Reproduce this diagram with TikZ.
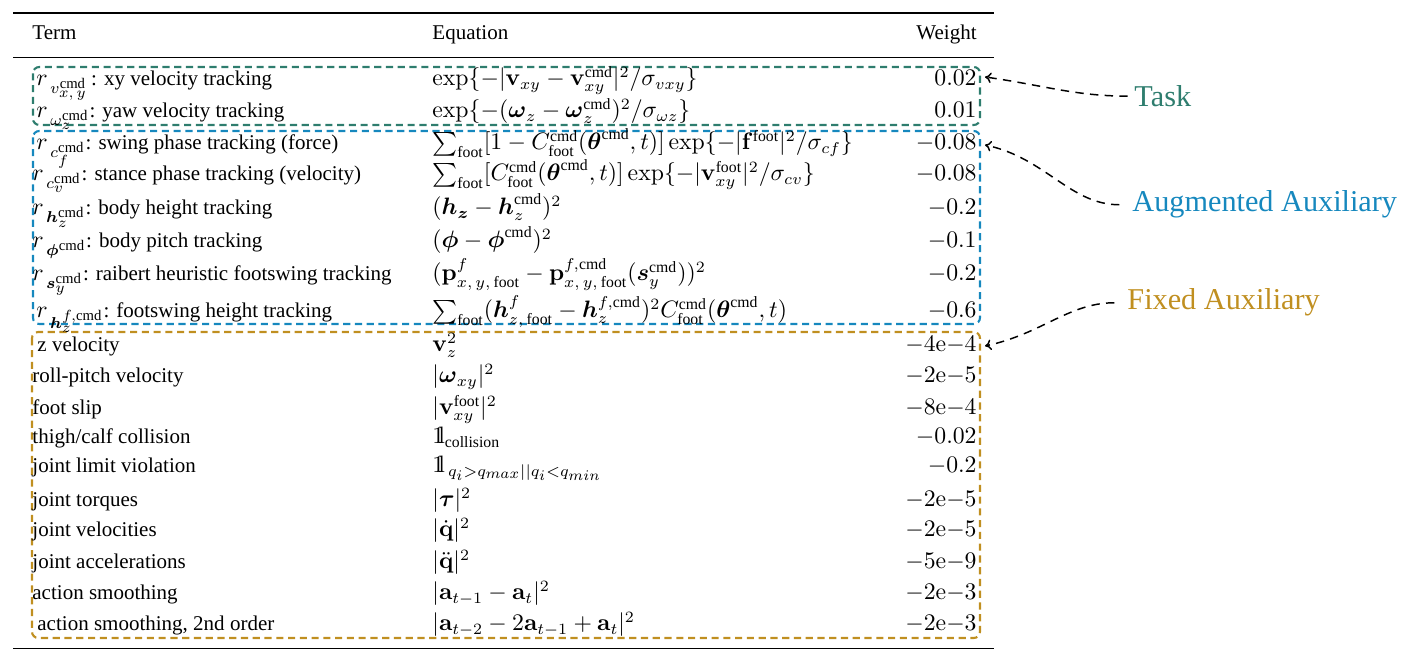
\RequirePackage{fix-cm}
\documentclass[tikz,border=0pt]{standalone}
\usepackage{amsmath,amssymb}
\usepackage[no-math]{fontspec}
\setmainfont{Liberation Serif}
\usetikzlibrary{arrows.meta}
\DeclareMathSizes{10}{11.3}{7.5}{7}
\definecolor{taskc}{RGB}{46,125,110}
\definecolor{augc}{RGB}{22,136,190}
\definecolor{fixc}{RGB}{192,143,32}
\newcommand{\cmdt}{\text{cmd}}
\newcommand{\ft}{\text{foot}}
\newcommand{\indic}{\mathrm{1\mkern-4.5mu l}}
\begin{document}
\begin{tikzpicture}[x=0.476pt,y=-0.476pt,
  txt/.style={inner sep=0pt, anchor=base west, font=\fontsize{10}{12}\selectfont},
  wt/.style={inner sep=0pt, anchor=base east, font=\fontsize{10}{12}\selectfont},
  grp/.style={line width=1pt, dash pattern=on 3.4pt off 2.2pt, rounded corners=3pt},
  lbl/.style={inner sep=0pt, anchor=base west, font=\fontsize{14.4}{17}\selectfont},
  pointer/.style={line width=0.7pt, dash pattern=on 4pt off 3pt, -{To[length=3pt,width=5pt]}}]
\useasboundingbox (0,0) rectangle (1401,660);

% rules
\draw[line width=0.9pt] (13,12.7) -- (994,12.7);
\draw[line width=0.55pt] (13,57.3) -- (994,57.3);
\draw[line width=0.9pt] (13,648.5) -- (994,648.5);

% group boxes
\draw[grp, taskc] (33,67) rectangle (980,125);
\draw[grp, augc] (33,131) rectangle (980,324);
\draw[grp, fixc] (32,332) rectangle (980,638);

% header
\node[txt] (hterm) at (32,39.5) {Term};
\node[txt] (heq) at (432,39.5) {Equation};
\node[wt] (hwt) at (977,39.5) {Weight};

% task rows
\node[txt] (t1) at (36,86) {$r_{\,v^{\cmdt}_{x,\,y}}$\,: xy velocity tracking};
\node[txt] (e1) at (432,86) {$\exp\{-|\mathbf{v}_{xy}-\mathbf{v}^{\cmdt}_{xy}|^2/\sigma_{vxy}\}$};
\node[wt] (w1) at (977,86) {$0.02$};
\node[txt] (t2) at (36,118) {$r_{\,\omega^{\cmdt}_z}$: yaw velocity tracking};
\node[txt] (e2) at (432,118) {$\exp\{-(\boldsymbol{\omega}_z-\boldsymbol{\omega}^{\cmdt}_z)^2/\sigma_{\omega z}\}$};
\node[wt] (w2) at (977,118) {$0.01$};

% augmented rows
\node[txt] (t3) at (36,150) {$r_{\,c^{\cmdt}_f}$: swing phase tracking (force)};
\node[txt] (e3) at (432,150) {$\sum_{\ft}[1-C^{\cmdt}_{\ft}(\boldsymbol{\theta}^{\cmdt},t)]\exp\{-|\mathbf{f}^{\ft}|^2/\sigma_{cf}\}$};
\node[wt] (w3) at (977,150) {$-0.08$};
\node[txt] (t4) at (32,181) {$r_{\,c^{\cmdt}_v}$: stance phase tracking (velocity)};
\node[txt] (e4) at (432,181) {$\sum_{\ft}[C^{\cmdt}_{\ft}(\boldsymbol{\theta}^{\cmdt},t)]\exp\{-|\mathbf{v}^{\ft}_{xy}|^2/\sigma_{cv}\}$};
\node[wt] (w4) at (977,181) {$-0.08$};
\node[txt] (t5) at (32,215) {$r_{\,\boldsymbol{h}^{\cmdt}_z}$: body height tracking};
\node[txt] (e5) at (432,215) {$(\boldsymbol{h_z}-\boldsymbol{h}^{\cmdt}_z)^2$};
\node[wt] (w5) at (977,215) {$-0.2$};
\node[txt] (t6) at (32,248) {$r_{\,\boldsymbol{\phi}^{\cmdt}}$: body pitch tracking};
\node[txt] (e6) at (432,248) {$(\boldsymbol{\phi}-\boldsymbol{\phi}^{\cmdt})^2$};
\node[wt] (w6) at (977,248) {$-0.1$};
\node[txt] (t7) at (32,281) {$r_{\,\boldsymbol{s}^{\cmdt}_y}$: raibert heuristic footswing tracking};
\node[txt] (e7) at (432,281) {$(\mathbf{p}^f_{x,\,y,\,\ft}-\mathbf{p}^{f,\cmdt}_{x,\,y,\,\ft}(\boldsymbol{s}^{\cmdt}_y))^2$};
\node[wt] (w7) at (977,281) {$-0.2$};
\node[txt] (t8) at (36,318) {$r_{\,\boldsymbol{h}^{f,\cmdt}_z}$: footswing height tracking};
\node[txt] (e8) at (432,318) {$\sum_{\ft}(\boldsymbol{h}^f_{z,\,\ft}-\boldsymbol{h}^{f,\cmdt}_z)^2C^{\cmdt}_{\ft}(\boldsymbol{\theta}^{\cmdt},t)$};
\node[wt] (w8) at (977,318) {$-0.6$};

% fixed rows
\node[txt] (t9) at (37,352) {z velocity};
\node[txt] (e9) at (432,352) {$\mathbf{v}_z^2$};
\node[wt] (w9) at (977,352) {$-4\mathrm{e}{-4}$};
\node[txt] (t10) at (32,383) {roll-pitch velocity};
\node[txt] (e10) at (432,383) {$|\boldsymbol{\omega}_{xy}|^2$};
\node[wt] (w10) at (977,383) {$-2\mathrm{e}{-5}$};
\node[txt] (t11) at (32,415) {foot slip};
\node[txt] (e11) at (432,415) {$|\mathbf{v}^{\ft}_{xy}|^2$};
\node[wt] (w11) at (977,415) {$-8\mathrm{e}{-4}$};
\node[txt] (t12) at (32,444) {thigh/calf collision};
\node[txt] (e12) at (432,444) {$\indic_{\text{collision}}$};
\node[wt] (w12) at (977,444) {$-0.02$};
\node[txt] (t13) at (32,473) {joint limit violation};
\node[txt] (e13) at (432,473) {$\indic_{\,q_i>q_{max}||q_i<q_{min}}$};
\node[wt] (w13) at (977,473) {$-0.2$};
\node[txt] (t14) at (32,507) {joint torques};
\node[txt] (e14) at (432,507) {$|\boldsymbol{\tau}|^2$};
\node[wt] (w14) at (977,507) {$-2\mathrm{e}{-5}$};
\node[txt] (t15) at (32,537) {joint velocities};
\node[txt] (e15) at (432,537) {$|\dot{\mathbf{q}}|^2$};
\node[wt] (w15) at (977,537) {$-2\mathrm{e}{-5}$};
\node[txt] (t16) at (32,569) {joint accelerations};
\node[txt] (e16) at (432,569) {$|\ddot{\mathbf{q}}|^2$};
\node[wt] (w16) at (977,569) {$-5\mathrm{e}{-9}$};
\node[txt] (t17) at (32,600) {action smoothing};
\node[txt] (e17) at (432,600) {$|\mathbf{a}_{t-1}-\mathbf{a}_t|^2$};
\node[wt] (w17) at (977,600) {$-2\mathrm{e}{-3}$};
\node[txt] (t18) at (37,631) {action smoothing, 2nd order};
\node[txt] (e18) at (432,631) {$|\mathbf{a}_{t-2}-2\mathbf{a}_{t-1}+\mathbf{a}_t|^2$};
\node[wt] (w18) at (977,631) {$-2\mathrm{e}{-3}$};

% labels
\node[lbl, text=taskc] (ltask) at (1134,106.5) {Task};
\node[lbl, text=augc] (laug) at (1132,212) {Augmented Auxiliary};
\node[lbl, text=fixc] (lfix) at (1127,310) {Fixed Auxiliary};

% arrow targets
\coordinate (ttask) at (985,77);
\coordinate (taug) at (985,145);
\coordinate (tfix) at (985,346);

\draw[pointer, shorten <=3pt] (ltask.west) to[out=180,in=-8] (ttask);
\draw[pointer, shorten <=6pt] (laug.west) to[out=180,in=-12] (taug);
\draw[pointer, shorten <=6pt] (lfix.west) to[out=180,in=12] (tfix);
\end{tikzpicture}
\end{document}
